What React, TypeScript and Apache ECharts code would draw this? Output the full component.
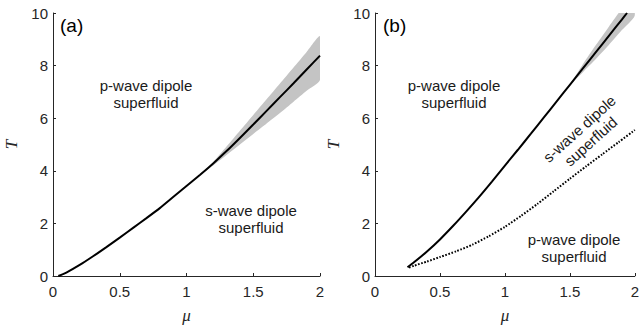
import React, { useEffect, useRef } from "react";
import * as echarts from "echarts";

// Panel (a): phase boundary and its uncertainty band
const muA = [0.04, 0.1, 0.2, 0.3, 0.4, 0.5, 0.6, 0.7, 0.8, 0.9, 1.0, 1.1, 1.2, 1.3, 1.4, 1.5, 1.6, 1.7, 1.8, 1.9, 2.0];
const tA = [0, 0.13, 0.42, 0.75, 1.1, 1.46, 1.83, 2.2, 2.58, 3.0, 3.42, 3.84, 4.28, 4.75, 5.25, 5.76, 6.28, 6.8, 7.32, 7.85, 8.38];
const bandMuA = [1.13, 1.2, 1.3, 1.4, 1.5, 1.6, 1.7, 1.8, 1.9, 2.0];
const bandUpA = [3.96, 4.33, 4.92, 5.52, 6.12, 6.72, 7.32, 7.92, 8.52, 9.12];
const bandLoA = [3.96, 4.2, 4.6, 5.0, 5.4, 5.8, 6.2, 6.62, 7.04, 7.45];

// Panel (b): solid boundary, dotted boundary, band
const muB = [0.25, 0.3, 0.4, 0.5, 0.6, 0.7, 0.8, 0.9, 1.0, 1.1, 1.2, 1.3, 1.4, 1.5, 1.6, 1.7, 1.8, 1.9, 1.94];
const tB = [0.33, 0.52, 0.93, 1.39, 1.9, 2.44, 3.0, 3.59, 4.2, 4.8, 5.41, 6.03, 6.65, 7.27, 7.89, 8.51, 9.13, 9.75, 10.0];
const muDot = [0.262, 0.3, 0.4, 0.5, 0.625, 0.75, 0.875, 1.0, 1.125, 1.25, 1.375, 1.5, 1.625, 1.75, 1.875, 2.0];
const tDot = [0.32, 0.39, 0.55, 0.72, 0.94, 1.19, 1.51, 1.87, 2.29, 2.74, 3.22, 3.7, 4.17, 4.63, 5.09, 5.55];
const bandMuB = [1.5, 1.6, 1.7, 1.8, 1.9, 2.0];
const bandUpB = [7.27, 8.05, 8.78, 9.48, 10.17, 10.85];
const bandLoB = [7.27, 7.75, 8.25, 8.78, 9.35, 9.9];

const xTicks = { min: 0, max: 2, interval: 0.5 };
const yTicks = { min: 0, max: 10, interval: 2 };

const FONT = "'Liberation Sans', Arial, sans-serif";
const SERIF = "'Liberation Serif', 'DejaVu Serif', serif";
const AX = "#262626";

const pair = (xs: number[], ys: number[]) => xs.map((x, i) => [x, ys[i]]);

function makeX(gridIndex: number) {
  return {
    type: "value",
    gridIndex,
    ...xTicks,
    name: "μ",
    nameLocation: "middle",
    nameGap: 31,
    nameTextStyle: { fontFamily: SERIF, fontStyle: "italic", fontSize: 17, color: AX },
    axisLine: { show: true, onZero: false, lineStyle: { color: AX, width: 1 } },
    axisTick: { show: true, inside: true, length: 3, lineStyle: { color: AX } },
    axisLabel: { color: AX, fontFamily: FONT, fontSize: 15, margin: 8, showMaxLabel: true, showMinLabel: true },
    splitLine: { show: false },
  };
}
function makeY(gridIndex: number) {
  return {
    type: "value",
    gridIndex,
    ...yTicks,
    name: "T",
    nameLocation: "middle",
    nameGap: 33,
    nameTextStyle: { fontFamily: SERIF, fontStyle: "italic", fontSize: 17, color: AX },
    axisLine: { show: true, onZero: false, lineStyle: { color: AX, width: 1 } },
    axisTick: { show: true, inside: true, length: 3, lineStyle: { color: AX } },
    axisLabel: { color: AX, fontFamily: FONT, fontSize: 15, margin: 5 },
    splitLine: { show: false },
  };
}

function bandSeries(idx: number, xs: number[], lo: number[], up: number[]) {
  return {
    type: "custom",
    xAxisIndex: idx,
    yAxisIndex: idx,
    silent: true,
    z: 1,
    data: [[xs[0], lo[0]]],
    renderItem: (params: any, api: any) => {
      const pts: number[][] = [];
      xs.forEach((x, i) => pts.push(api.coord([x, up[i]])));
      for (let i = xs.length - 1; i >= 0; i--) pts.push(api.coord([xs[i], lo[i]]));
      const cs = params.coordSys;
      return {
        type: "polygon",
        shape: { points: pts, smooth: 0.2 },
        style: { fill: "#c4c4c4", stroke: "none" },
        clipPath: { type: "rect", shape: { x: cs.x, y: cs.y, width: cs.width, height: cs.height } },
      };
    },
  };
}

function curve(idx: number, xs: number[], ys: number[], dotted = false) {
  return {
    type: "line",
    xAxisIndex: idx,
    yAxisIndex: idx,
    symbol: "none",
    smooth: 0.2,
    z: 3,
    lineStyle: { color: "#000", width: 2, type: dotted ? [1.6, 1.6] : "solid" },
    data: pair(xs, ys),
  };
}

function txt(x: number, y: number, text: string, rotation = 0) {
  return {
    type: "text",
    x,
    y,
    rotation,
    style: {
      text,
      fill: "#1a1a1a",
      font: `15px ${FONT}`,
      align: "center",
      verticalAlign: "middle",
      lineHeight: 17,
    },
  };
}

export default function App() {
  const ref = useRef<HTMLDivElement>(null);
  useEffect(() => {
    if (!ref.current) return;
    const chart = echarts.init(ref.current, null, { renderer: "svg" });
    chart.setOption({
      animation: false,
      backgroundColor: "#ffffff",
      grid: [
        { left: 53, top: 13, width: 267, height: 269 },
        { left: 375, top: 13, width: 267, height: 269 },
      ],
      xAxis: [makeX(0), makeX(1)],
      yAxis: [makeY(0), makeY(1)],
      series: [
        bandSeries(0, bandMuA, bandLoA, bandUpA),
        curve(0, muA, tA),
        bandSeries(1, bandMuB, bandLoB, bandUpB),
        curve(1, muB, tB),
        curve(1, muDot, tDot, true),
      ],
      graphic: [
        {
          type: "text",
          x: 60,
          y: 25,
          style: { text: "(a)", fill: "#000", font: `19px ${FONT}`, verticalAlign: "middle" },
        },
        {
          type: "text",
          x: 383,
          y: 25,
          style: { text: "(b)", fill: "#000", font: `19px ${FONT}`, verticalAlign: "middle" },
        },
        txt(146, 94, "p-wave dipole\nsuperfluid"),
        txt(251, 219, "s-wave dipole\nsuperfluid"),
        txt(454, 94, "p-wave dipole\nsuperfluid"),
        txt(574, 248, "p-wave dipole\nsuperfluid"),
        txt(585, 135, "s-wave dipole\nsuperfluid", (42 * Math.PI) / 180),
      ],
    });
    return () => chart.dispose();
  }, []);
  return (
    <div
      ref={ref}
      style={{ position: "fixed", left: 0, top: 0, width: 642, height: 329, background: "#fff" }}
    />
  );
}
